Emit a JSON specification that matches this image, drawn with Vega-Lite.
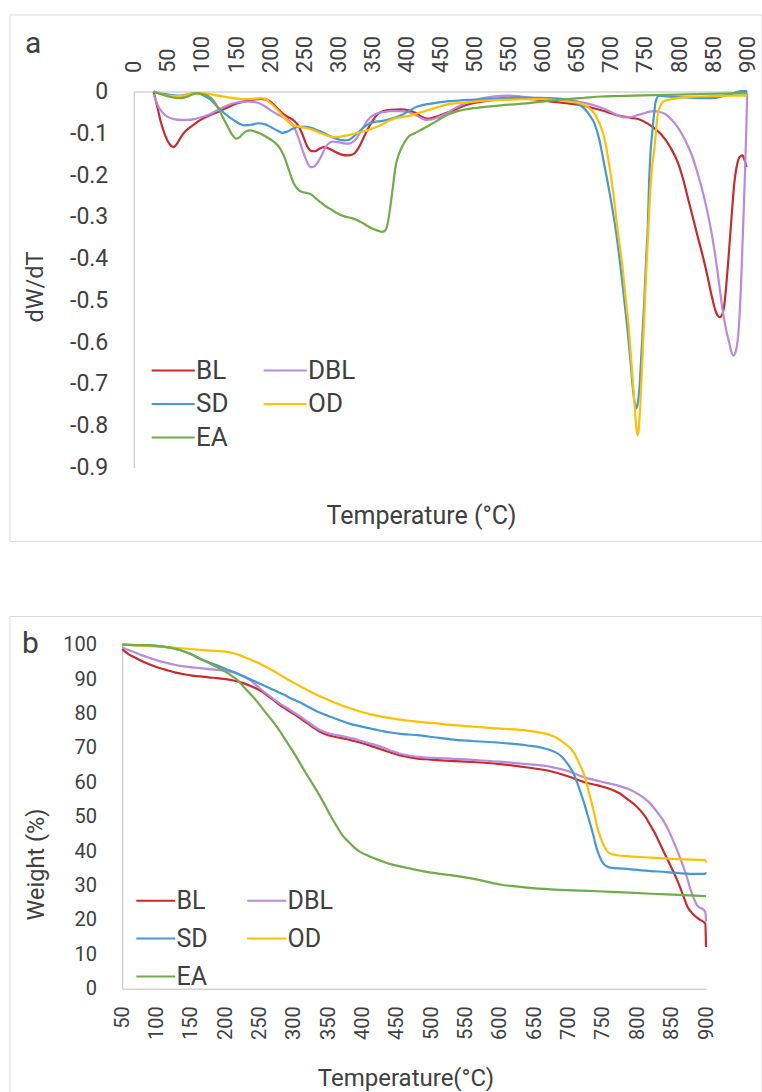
{
  "$schema": "https://vega.github.io/schema/vega-lite/v6.json",
  "padding": {"left": 8.5, "top": 13.5, "right": 0, "bottom": 0},
  "background": "white",
  "spacing": 73.5,
  "config": {
    "font": "Roboto",
    "view": {"stroke": "#d9d9d9", "strokeWidth": 1},
    "axis": {"labelColor": "#404040", "titleColor": "#404040", "labelFont": "Roboto", "titleFont": "Roboto", "titleFontWeight": "normal", "domainColor": "#bfbfbf", "domainWidth": 1, "grid": false, "ticks": false, "tickSize": 0, "labelOverlap": false, "labelFlush": false, "labelBound": false},
    "legend": {"labelColor": "#404040", "labelFont": "Roboto", "padding": 0, "titlePadding": 0},
    "title": {"color": "#404040", "font": "Roboto", "fontWeight": "normal", "fontSize": 30}
  },
  "resolve": {"scale": {"color": "independent"}, "legend": {"color": "independent"}},
  "datasets": {
    "dtg": [
      {"s":"BL","T":29,"v":0},{"s":"BL","T":35,"v":-0.04},{"s":"BL","T":40,"v":-0.075},{"s":"BL","T":46,"v":-0.105},{"s":"BL","T":52,"v":-0.125},{"s":"BL","T":58,"v":-0.133},{"s":"BL","T":63,"v":-0.126},{"s":"BL","T":68,"v":-0.112},{"s":"BL","T":74,"v":-0.098},{"s":"BL","T":80,"v":-0.089},{"s":"BL","T":89,"v":-0.078},{"s":"BL","T":98,"v":-0.068},{"s":"BL","T":110,"v":-0.058},{"s":"BL","T":123,"v":-0.049},{"s":"BL","T":135,"v":-0.04},{"s":"BL","T":147,"v":-0.031},{"s":"BL","T":157,"v":-0.026},{"s":"BL","T":167,"v":-0.022},{"s":"BL","T":177,"v":-0.019},{"s":"BL","T":186,"v":-0.018},{"s":"BL","T":193,"v":-0.019},{"s":"BL","T":200,"v":-0.024},{"s":"BL","T":208,"v":-0.036},{"s":"BL","T":216,"v":-0.049},{"s":"BL","T":226,"v":-0.061},{"s":"BL","T":235,"v":-0.07},{"s":"BL","T":242,"v":-0.083},{"s":"BL","T":248,"v":-0.105},{"s":"BL","T":254,"v":-0.13},{"s":"BL","T":260,"v":-0.142},{"s":"BL","T":266,"v":-0.143},{"s":"BL","T":272,"v":-0.137},{"s":"BL","T":279,"v":-0.133},{"s":"BL","T":287,"v":-0.137},{"s":"BL","T":296,"v":-0.145},{"s":"BL","T":305,"v":-0.151},{"s":"BL","T":314,"v":-0.153},{"s":"BL","T":321,"v":-0.151},{"s":"BL","T":327,"v":-0.142},{"s":"BL","T":333,"v":-0.125},{"s":"BL","T":339,"v":-0.104},{"s":"BL","T":345,"v":-0.085},{"s":"BL","T":352,"v":-0.066},{"s":"BL","T":358,"v":-0.054},{"s":"BL","T":366,"v":-0.047},{"s":"BL","T":377,"v":-0.044},{"s":"BL","T":392,"v":-0.043},{"s":"BL","T":403,"v":-0.045},{"s":"BL","T":413,"v":-0.051},{"s":"BL","T":422,"v":-0.06},{"s":"BL","T":431,"v":-0.065},{"s":"BL","T":440,"v":-0.062},{"s":"BL","T":456,"v":-0.053},{"s":"BL","T":470,"v":-0.044},{"s":"BL","T":490,"v":-0.031},{"s":"BL","T":515,"v":-0.023},{"s":"BL","T":539,"v":-0.019},{"s":"BL","T":565,"v":-0.017},{"s":"BL","T":590,"v":-0.019},{"s":"BL","T":617,"v":-0.025},{"s":"BL","T":640,"v":-0.029},{"s":"BL","T":660,"v":-0.034},{"s":"BL","T":686,"v":-0.045},{"s":"BL","T":710,"v":-0.057},{"s":"BL","T":730,"v":-0.063},{"s":"BL","T":742,"v":-0.067},{"s":"BL","T":754,"v":-0.077},{"s":"BL","T":765,"v":-0.09},{"s":"BL","T":774,"v":-0.103},{"s":"BL","T":787,"v":-0.133},{"s":"BL","T":799,"v":-0.173},{"s":"BL","T":806,"v":-0.21},{"s":"BL","T":813,"v":-0.255},{"s":"BL","T":820,"v":-0.3},{"s":"BL","T":827,"v":-0.345},{"s":"BL","T":835,"v":-0.395},{"s":"BL","T":842,"v":-0.444},{"s":"BL","T":848,"v":-0.49},{"s":"BL","T":853,"v":-0.522},{"s":"BL","T":857,"v":-0.537},{"s":"BL","T":860,"v":-0.54},{"s":"BL","T":863,"v":-0.535},{"s":"BL","T":866,"v":-0.516},{"s":"BL","T":869,"v":-0.47},{"s":"BL","T":872,"v":-0.41},{"s":"BL","T":875,"v":-0.345},{"s":"BL","T":878,"v":-0.28},{"s":"BL","T":881,"v":-0.22},{"s":"BL","T":884,"v":-0.185},{"s":"BL","T":887,"v":-0.163},{"s":"BL","T":890,"v":-0.155},{"s":"BL","T":893,"v":-0.153},{"s":"BL","T":896,"v":-0.163},{"s":"BL","T":899,"v":-0.181},
      {"s":"DBL","T":29,"v":-0.006},{"s":"DBL","T":32,"v":-0.02},{"s":"DBL","T":35,"v":-0.033},{"s":"DBL","T":42,"v":-0.05},{"s":"DBL","T":49,"v":-0.06},{"s":"DBL","T":59,"v":-0.066},{"s":"DBL","T":69,"v":-0.068},{"s":"DBL","T":79,"v":-0.068},{"s":"DBL","T":89,"v":-0.066},{"s":"DBL","T":100,"v":-0.061},{"s":"DBL","T":113,"v":-0.053},{"s":"DBL","T":125,"v":-0.043},{"s":"DBL","T":138,"v":-0.033},{"s":"DBL","T":150,"v":-0.027},{"s":"DBL","T":162,"v":-0.024},{"s":"DBL","T":172,"v":-0.024},{"s":"DBL","T":182,"v":-0.027},{"s":"DBL","T":191,"v":-0.034},{"s":"DBL","T":201,"v":-0.045},{"s":"DBL","T":211,"v":-0.055},{"s":"DBL","T":221,"v":-0.063},{"s":"DBL","T":229,"v":-0.072},{"s":"DBL","T":235,"v":-0.085},{"s":"DBL","T":241,"v":-0.108},{"s":"DBL","T":247,"v":-0.138},{"s":"DBL","T":252,"v":-0.16},{"s":"DBL","T":256,"v":-0.175},{"s":"DBL","T":260,"v":-0.181},{"s":"DBL","T":264,"v":-0.18},{"s":"DBL","T":269,"v":-0.172},{"s":"DBL","T":275,"v":-0.155},{"s":"DBL","T":281,"v":-0.135},{"s":"DBL","T":287,"v":-0.123},{"s":"DBL","T":293,"v":-0.12},{"s":"DBL","T":299,"v":-0.121},{"s":"DBL","T":308,"v":-0.124},{"s":"DBL","T":316,"v":-0.125},{"s":"DBL","T":322,"v":-0.12},{"s":"DBL","T":328,"v":-0.109},{"s":"DBL","T":336,"v":-0.088},{"s":"DBL","T":343,"v":-0.069},{"s":"DBL","T":350,"v":-0.058},{"s":"DBL","T":358,"v":-0.052},{"s":"DBL","T":367,"v":-0.049},{"s":"DBL","T":377,"v":-0.047},{"s":"DBL","T":390,"v":-0.047},{"s":"DBL","T":402,"v":-0.049},{"s":"DBL","T":412,"v":-0.055},{"s":"DBL","T":421,"v":-0.063},{"s":"DBL","T":429,"v":-0.068},{"s":"DBL","T":437,"v":-0.067},{"s":"DBL","T":446,"v":-0.062},{"s":"DBL","T":456,"v":-0.055},{"s":"DBL","T":470,"v":-0.041},{"s":"DBL","T":490,"v":-0.026},{"s":"DBL","T":505,"v":-0.019},{"s":"DBL","T":519,"v":-0.014},{"s":"DBL","T":534,"v":-0.011},{"s":"DBL","T":549,"v":-0.01},{"s":"DBL","T":568,"v":-0.012},{"s":"DBL","T":588,"v":-0.016},{"s":"DBL","T":612,"v":-0.018},{"s":"DBL","T":637,"v":-0.02},{"s":"DBL","T":652,"v":-0.024},{"s":"DBL","T":666,"v":-0.029},{"s":"DBL","T":681,"v":-0.036},{"s":"DBL","T":695,"v":-0.045},{"s":"DBL","T":705,"v":-0.053},{"s":"DBL","T":715,"v":-0.06},{"s":"DBL","T":722,"v":-0.062},{"s":"DBL","T":730,"v":-0.061},{"s":"DBL","T":740,"v":-0.056},{"s":"DBL","T":749,"v":-0.052},{"s":"DBL","T":757,"v":-0.048},{"s":"DBL","T":764,"v":-0.047},{"s":"DBL","T":771,"v":-0.049},{"s":"DBL","T":779,"v":-0.053},{"s":"DBL","T":788,"v":-0.066},{"s":"DBL","T":798,"v":-0.085},{"s":"DBL","T":808,"v":-0.113},{"s":"DBL","T":818,"v":-0.149},{"s":"DBL","T":828,"v":-0.2},{"s":"DBL","T":837,"v":-0.255},{"s":"DBL","T":845,"v":-0.315},{"s":"DBL","T":852,"v":-0.38},{"s":"DBL","T":858,"v":-0.45},{"s":"DBL","T":864,"v":-0.524},{"s":"DBL","T":869,"v":-0.57},{"s":"DBL","T":874,"v":-0.604},{"s":"DBL","T":877,"v":-0.624},{"s":"DBL","T":880,"v":-0.632},{"s":"DBL","T":883,"v":-0.623},{"s":"DBL","T":886,"v":-0.596},{"s":"DBL","T":889,"v":-0.53},{"s":"DBL","T":891,"v":-0.46},{"s":"DBL","T":893,"v":-0.37},{"s":"DBL","T":895,"v":-0.28},{"s":"DBL","T":897,"v":-0.18},{"s":"DBL","T":899,"v":-0.07},{"s":"DBL","T":900,"v":-0.005},
      {"s":"SD","T":29,"v":0},{"s":"SD","T":39,"v":-0.005},{"s":"SD","T":49,"v":-0.007},{"s":"SD","T":59,"v":-0.009},{"s":"SD","T":69,"v":-0.01},{"s":"SD","T":79,"v":-0.007},{"s":"SD","T":89,"v":-0.004},{"s":"SD","T":96,"v":-0.005},{"s":"SD","T":103,"v":-0.01},{"s":"SD","T":113,"v":-0.02},{"s":"SD","T":123,"v":-0.037},{"s":"SD","T":135,"v":-0.055},{"s":"SD","T":147,"v":-0.069},{"s":"SD","T":155,"v":-0.077},{"s":"SD","T":162,"v":-0.081},{"s":"SD","T":172,"v":-0.08},{"s":"SD","T":182,"v":-0.076},{"s":"SD","T":192,"v":-0.078},{"s":"SD","T":201,"v":-0.085},{"s":"SD","T":210,"v":-0.093},{"s":"SD","T":218,"v":-0.099},{"s":"SD","T":225,"v":-0.096},{"s":"SD","T":233,"v":-0.089},{"s":"SD","T":241,"v":-0.085},{"s":"SD","T":250,"v":-0.084},{"s":"SD","T":260,"v":-0.087},{"s":"SD","T":270,"v":-0.093},{"s":"SD","T":280,"v":-0.1},{"s":"SD","T":289,"v":-0.108},{"s":"SD","T":299,"v":-0.114},{"s":"SD","T":309,"v":-0.117},{"s":"SD","T":315,"v":-0.116},{"s":"SD","T":321,"v":-0.11},{"s":"SD","T":328,"v":-0.1},{"s":"SD","T":338,"v":-0.085},{"s":"SD","T":345,"v":-0.077},{"s":"SD","T":353,"v":-0.073},{"s":"SD","T":362,"v":-0.071},{"s":"SD","T":372,"v":-0.068},{"s":"SD","T":382,"v":-0.063},{"s":"SD","T":392,"v":-0.057},{"s":"SD","T":404,"v":-0.046},{"s":"SD","T":416,"v":-0.036},{"s":"SD","T":428,"v":-0.031},{"s":"SD","T":441,"v":-0.028},{"s":"SD","T":453,"v":-0.025},{"s":"SD","T":465,"v":-0.023},{"s":"SD","T":490,"v":-0.02},{"s":"SD","T":514,"v":-0.018},{"s":"SD","T":539,"v":-0.016},{"s":"SD","T":563,"v":-0.014},{"s":"SD","T":588,"v":-0.015},{"s":"SD","T":612,"v":-0.016},{"s":"SD","T":630,"v":-0.018},{"s":"SD","T":642,"v":-0.022},{"s":"SD","T":652,"v":-0.03},{"s":"SD","T":661,"v":-0.041},{"s":"SD","T":669,"v":-0.057},{"s":"SD","T":676,"v":-0.077},{"s":"SD","T":683,"v":-0.115},{"s":"SD","T":690,"v":-0.173},{"s":"SD","T":695,"v":-0.215},{"s":"SD","T":700,"v":-0.26},{"s":"SD","T":707,"v":-0.33},{"s":"SD","T":713,"v":-0.404},{"s":"SD","T":719,"v":-0.49},{"s":"SD","T":725,"v":-0.58},{"s":"SD","T":729,"v":-0.65},{"s":"SD","T":732,"v":-0.707},{"s":"SD","T":735,"v":-0.745},{"s":"SD","T":737,"v":-0.759},{"s":"SD","T":739,"v":-0.75},{"s":"SD","T":742,"v":-0.707},{"s":"SD","T":745,"v":-0.62},{"s":"SD","T":749,"v":-0.5},{"s":"SD","T":752,"v":-0.39},{"s":"SD","T":754,"v":-0.33},{"s":"SD","T":756,"v":-0.22},{"s":"SD","T":758,"v":-0.15},{"s":"SD","T":761,"v":-0.093},{"s":"SD","T":764,"v":-0.045},{"s":"SD","T":766,"v":-0.022},{"s":"SD","T":771,"v":-0.01},{"s":"SD","T":783,"v":-0.012},{"s":"SD","T":808,"v":-0.014},{"s":"SD","T":832,"v":-0.016},{"s":"SD","T":845,"v":-0.016},{"s":"SD","T":857,"v":-0.014},{"s":"SD","T":867,"v":-0.01},{"s":"SD","T":877,"v":-0.006},{"s":"SD","T":885,"v":-0.001},{"s":"SD","T":891,"v":0.001},{"s":"SD","T":900,"v":0.001},
      {"s":"OD","T":29,"v":0},{"s":"OD","T":39,"v":-0.006},{"s":"OD","T":49,"v":-0.01},{"s":"OD","T":59,"v":-0.011},{"s":"OD","T":69,"v":-0.011},{"s":"OD","T":77,"v":-0.008},{"s":"OD","T":84,"v":-0.005},{"s":"OD","T":98,"v":-0.004},{"s":"OD","T":110,"v":-0.006},{"s":"OD","T":123,"v":-0.01},{"s":"OD","T":135,"v":-0.013},{"s":"OD","T":147,"v":-0.016},{"s":"OD","T":160,"v":-0.018},{"s":"OD","T":172,"v":-0.018},{"s":"OD","T":186,"v":-0.016},{"s":"OD","T":192,"v":-0.017},{"s":"OD","T":198,"v":-0.024},{"s":"OD","T":206,"v":-0.036},{"s":"OD","T":216,"v":-0.053},{"s":"OD","T":224,"v":-0.068},{"s":"OD","T":231,"v":-0.079},{"s":"OD","T":238,"v":-0.083},{"s":"OD","T":245,"v":-0.085},{"s":"OD","T":255,"v":-0.088},{"s":"OD","T":265,"v":-0.093},{"s":"OD","T":275,"v":-0.1},{"s":"OD","T":284,"v":-0.106},{"s":"OD","T":294,"v":-0.109},{"s":"OD","T":304,"v":-0.108},{"s":"OD","T":313,"v":-0.105},{"s":"OD","T":323,"v":-0.101},{"s":"OD","T":333,"v":-0.097},{"s":"OD","T":343,"v":-0.093},{"s":"OD","T":353,"v":-0.087},{"s":"OD","T":363,"v":-0.08},{"s":"OD","T":372,"v":-0.072},{"s":"OD","T":382,"v":-0.065},{"s":"OD","T":394,"v":-0.061},{"s":"OD","T":407,"v":-0.057},{"s":"OD","T":419,"v":-0.051},{"s":"OD","T":431,"v":-0.045},{"s":"OD","T":445,"v":-0.038},{"s":"OD","T":460,"v":-0.031},{"s":"OD","T":475,"v":-0.028},{"s":"OD","T":490,"v":-0.026},{"s":"OD","T":515,"v":-0.022},{"s":"OD","T":539,"v":-0.02},{"s":"OD","T":563,"v":-0.019},{"s":"OD","T":588,"v":-0.018},{"s":"OD","T":607,"v":-0.019},{"s":"OD","T":627,"v":-0.022},{"s":"OD","T":642,"v":-0.025},{"s":"OD","T":656,"v":-0.029},{"s":"OD","T":667,"v":-0.038},{"s":"OD","T":676,"v":-0.053},{"s":"OD","T":683,"v":-0.075},{"s":"OD","T":690,"v":-0.109},{"s":"OD","T":697,"v":-0.17},{"s":"OD","T":703,"v":-0.237},{"s":"OD","T":710,"v":-0.333},{"s":"OD","T":717,"v":-0.42},{"s":"OD","T":722,"v":-0.5},{"s":"OD","T":727,"v":-0.58},{"s":"OD","T":731,"v":-0.67},{"s":"OD","T":735,"v":-0.755},{"s":"OD","T":737,"v":-0.8},{"s":"OD","T":739,"v":-0.823},{"s":"OD","T":741,"v":-0.805},{"s":"OD","T":743,"v":-0.755},{"s":"OD","T":746,"v":-0.65},{"s":"OD","T":749,"v":-0.54},{"s":"OD","T":753,"v":-0.39},{"s":"OD","T":755,"v":-0.33},{"s":"OD","T":757,"v":-0.26},{"s":"OD","T":760,"v":-0.19},{"s":"OD","T":764,"v":-0.133},{"s":"OD","T":767,"v":-0.08},{"s":"OD","T":769,"v":-0.053},{"s":"OD","T":774,"v":-0.03},{"s":"OD","T":779,"v":-0.022},{"s":"OD","T":798,"v":-0.016},{"s":"OD","T":832,"v":-0.012},{"s":"OD","T":881,"v":-0.01},{"s":"OD","T":900,"v":-0.01},
      {"s":"EA","T":29,"v":0},{"s":"EA","T":39,"v":-0.006},{"s":"EA","T":49,"v":-0.011},{"s":"EA","T":59,"v":-0.015},{"s":"EA","T":69,"v":-0.016},{"s":"EA","T":79,"v":-0.012},{"s":"EA","T":86,"v":-0.007},{"s":"EA","T":93,"v":-0.004},{"s":"EA","T":100,"v":-0.006},{"s":"EA","T":108,"v":-0.01},{"s":"EA","T":116,"v":-0.02},{"s":"EA","T":123,"v":-0.037},{"s":"EA","T":130,"v":-0.06},{"s":"EA","T":138,"v":-0.085},{"s":"EA","T":145,"v":-0.105},{"s":"EA","T":150,"v":-0.113},{"s":"EA","T":155,"v":-0.11},{"s":"EA","T":160,"v":-0.101},{"s":"EA","T":165,"v":-0.095},{"s":"EA","T":171,"v":-0.093},{"s":"EA","T":178,"v":-0.096},{"s":"EA","T":186,"v":-0.101},{"s":"EA","T":196,"v":-0.11},{"s":"EA","T":206,"v":-0.121},{"s":"EA","T":214,"v":-0.135},{"s":"EA","T":221,"v":-0.157},{"s":"EA","T":228,"v":-0.19},{"s":"EA","T":235,"v":-0.221},{"s":"EA","T":242,"v":-0.236},{"s":"EA","T":248,"v":-0.241},{"s":"EA","T":254,"v":-0.243},{"s":"EA","T":260,"v":-0.246},{"s":"EA","T":267,"v":-0.256},{"s":"EA","T":275,"v":-0.266},{"s":"EA","T":282,"v":-0.275},{"s":"EA","T":289,"v":-0.282},{"s":"EA","T":299,"v":-0.292},{"s":"EA","T":309,"v":-0.299},{"s":"EA","T":320,"v":-0.303},{"s":"EA","T":328,"v":-0.308},{"s":"EA","T":336,"v":-0.315},{"s":"EA","T":343,"v":-0.322},{"s":"EA","T":350,"v":-0.328},{"s":"EA","T":358,"v":-0.333},{"s":"EA","T":364,"v":-0.336},{"s":"EA","T":368,"v":-0.334},{"s":"EA","T":372,"v":-0.32},{"s":"EA","T":376,"v":-0.28},{"s":"EA","T":380,"v":-0.23},{"s":"EA","T":384,"v":-0.18},{"s":"EA","T":389,"v":-0.15},{"s":"EA","T":395,"v":-0.128},{"s":"EA","T":402,"v":-0.11},{"s":"EA","T":412,"v":-0.1},{"s":"EA","T":421,"v":-0.092},{"s":"EA","T":431,"v":-0.083},{"s":"EA","T":441,"v":-0.074},{"s":"EA","T":451,"v":-0.064},{"s":"EA","T":461,"v":-0.055},{"s":"EA","T":475,"v":-0.047},{"s":"EA","T":490,"v":-0.042},{"s":"EA","T":515,"v":-0.037},{"s":"EA","T":539,"v":-0.033},{"s":"EA","T":563,"v":-0.03},{"s":"EA","T":588,"v":-0.026},{"s":"EA","T":612,"v":-0.022},{"s":"EA","T":637,"v":-0.018},{"s":"EA","T":661,"v":-0.015},{"s":"EA","T":686,"v":-0.012},{"s":"EA","T":710,"v":-0.011},{"s":"EA","T":734,"v":-0.01},{"s":"EA","T":783,"v":-0.008},{"s":"EA","T":832,"v":-0.006},{"s":"EA","T":900,"v":-0.004}
    ],
    "tg": [
      {"s":"BL","T":50,"w":98.7},{"s":"BL","T":58,"w":97.4},{"s":"BL","T":67,"w":96.4},{"s":"BL","T":79,"w":95.2},{"s":"BL","T":91,"w":94.2},{"s":"BL","T":103,"w":93.3},{"s":"BL","T":115,"w":92.6},{"s":"BL","T":128,"w":91.9},{"s":"BL","T":140,"w":91.4},{"s":"BL","T":152,"w":91.0},{"s":"BL","T":164,"w":90.8},{"s":"BL","T":176,"w":90.5},{"s":"BL","T":188,"w":90.3},{"s":"BL","T":200,"w":90.0},{"s":"BL","T":212,"w":89.6},{"s":"BL","T":225,"w":88.9},{"s":"BL","T":237,"w":88.0},{"s":"BL","T":244,"w":87.4},{"s":"BL","T":251,"w":86.7},{"s":"BL","T":261,"w":85.3},{"s":"BL","T":271,"w":83.8},{"s":"BL","T":280,"w":82.4},{"s":"BL","T":290,"w":81.1},{"s":"BL","T":300,"w":79.8},{"s":"BL","T":310,"w":78.5},{"s":"BL","T":320,"w":77.1},{"s":"BL","T":329,"w":75.8},{"s":"BL","T":338,"w":74.7},{"s":"BL","T":348,"w":73.8},{"s":"BL","T":358,"w":73.3},{"s":"BL","T":368,"w":72.9},{"s":"BL","T":378,"w":72.5},{"s":"BL","T":387,"w":72.0},{"s":"BL","T":397,"w":71.5},{"s":"BL","T":407,"w":70.9},{"s":"BL","T":419,"w":70.1},{"s":"BL","T":431,"w":69.3},{"s":"BL","T":443,"w":68.5},{"s":"BL","T":455,"w":67.8},{"s":"BL","T":467,"w":67.3},{"s":"BL","T":480,"w":66.9},{"s":"BL","T":492,"w":66.7},{"s":"BL","T":504,"w":66.5},{"s":"BL","T":528,"w":66.2},{"s":"BL","T":560,"w":65.9},{"s":"BL","T":600,"w":65.3},{"s":"BL","T":640,"w":64.3},{"s":"BL","T":674,"w":63.2},{"s":"BL","T":700,"w":61.7},{"s":"BL","T":722,"w":60.1},{"s":"BL","T":742,"w":59.1},{"s":"BL","T":761,"w":58.0},{"s":"BL","T":774,"w":56.8},{"s":"BL","T":785,"w":55.2},{"s":"BL","T":795,"w":53.7},{"s":"BL","T":804,"w":51.9},{"s":"BL","T":812,"w":49.9},{"s":"BL","T":819,"w":47.5},{"s":"BL","T":827,"w":44.7},{"s":"BL","T":834,"w":41.7},{"s":"BL","T":841,"w":38.8},{"s":"BL","T":848,"w":35.9},{"s":"BL","T":856,"w":32.5},{"s":"BL","T":863,"w":29.1},{"s":"BL","T":868,"w":26.4},{"s":"BL","T":873,"w":23.8},{"s":"BL","T":878,"w":22.4},{"s":"BL","T":883,"w":21.3},{"s":"BL","T":891,"w":20.1},{"s":"BL","T":899,"w":18.9},{"s":"BL","T":900,"w":12.1},
      {"s":"DBL","T":50,"w":99.3},{"s":"DBL","T":58,"w":98.5},{"s":"DBL","T":67,"w":97.9},{"s":"DBL","T":79,"w":96.9},{"s":"DBL","T":91,"w":96.1},{"s":"DBL","T":103,"w":95.3},{"s":"DBL","T":115,"w":94.7},{"s":"DBL","T":128,"w":94.1},{"s":"DBL","T":140,"w":93.7},{"s":"DBL","T":152,"w":93.4},{"s":"DBL","T":164,"w":93.2},{"s":"DBL","T":176,"w":92.9},{"s":"DBL","T":188,"w":92.7},{"s":"DBL","T":200,"w":92.4},{"s":"DBL","T":212,"w":91.9},{"s":"DBL","T":225,"w":90.9},{"s":"DBL","T":237,"w":89.6},{"s":"DBL","T":244,"w":88.4},{"s":"DBL","T":251,"w":87.2},{"s":"DBL","T":261,"w":85.6},{"s":"DBL","T":271,"w":84.1},{"s":"DBL","T":280,"w":82.8},{"s":"DBL","T":290,"w":81.6},{"s":"DBL","T":300,"w":80.3},{"s":"DBL","T":310,"w":79.0},{"s":"DBL","T":320,"w":77.6},{"s":"DBL","T":329,"w":76.3},{"s":"DBL","T":338,"w":75.2},{"s":"DBL","T":348,"w":74.4},{"s":"DBL","T":358,"w":73.9},{"s":"DBL","T":368,"w":73.5},{"s":"DBL","T":378,"w":73.1},{"s":"DBL","T":387,"w":72.7},{"s":"DBL","T":397,"w":72.1},{"s":"DBL","T":407,"w":71.5},{"s":"DBL","T":419,"w":70.8},{"s":"DBL","T":431,"w":70.0},{"s":"DBL","T":443,"w":69.1},{"s":"DBL","T":455,"w":68.3},{"s":"DBL","T":467,"w":67.8},{"s":"DBL","T":480,"w":67.4},{"s":"DBL","T":492,"w":67.2},{"s":"DBL","T":504,"w":67.1},{"s":"DBL","T":528,"w":66.9},{"s":"DBL","T":560,"w":66.5},{"s":"DBL","T":600,"w":66.0},{"s":"DBL","T":640,"w":65.3},{"s":"DBL","T":674,"w":64.5},{"s":"DBL","T":700,"w":63.2},{"s":"DBL","T":722,"w":61.5},{"s":"DBL","T":745,"w":60.3},{"s":"DBL","T":771,"w":59.1},{"s":"DBL","T":786,"w":58.1},{"s":"DBL","T":800,"w":56.7},{"s":"DBL","T":810,"w":55.4},{"s":"DBL","T":819,"w":53.8},{"s":"DBL","T":829,"w":51.3},{"s":"DBL","T":839,"w":48.5},{"s":"DBL","T":846,"w":45.8},{"s":"DBL","T":853,"w":42.6},{"s":"DBL","T":861,"w":38.7},{"s":"DBL","T":868,"w":34.9},{"s":"DBL","T":873,"w":31.9},{"s":"DBL","T":877,"w":29.1},{"s":"DBL","T":882,"w":26.4},{"s":"DBL","T":887,"w":24.2},{"s":"DBL","T":891,"w":23.5},{"s":"DBL","T":894,"w":23.3},{"s":"DBL","T":899,"w":22.3},{"s":"DBL","T":900,"w":19.5},
      {"s":"SD","T":50,"w":100},{"s":"SD","T":70,"w":99.9},{"s":"SD","T":91,"w":99.8},{"s":"SD","T":103,"w":99.6},{"s":"SD","T":115,"w":99.3},{"s":"SD","T":125,"w":98.9},{"s":"SD","T":135,"w":98.4},{"s":"SD","T":150,"w":97.3},{"s":"SD","T":164,"w":95.9},{"s":"SD","T":176,"w":94.9},{"s":"SD","T":188,"w":94.0},{"s":"SD","T":200,"w":93.0},{"s":"SD","T":212,"w":92.1},{"s":"SD","T":225,"w":91.0},{"s":"SD","T":237,"w":89.9},{"s":"SD","T":249,"w":88.8},{"s":"SD","T":261,"w":87.7},{"s":"SD","T":273,"w":86.6},{"s":"SD","T":285,"w":85.5},{"s":"SD","T":297,"w":84.3},{"s":"SD","T":310,"w":83.1},{"s":"SD","T":322,"w":81.8},{"s":"SD","T":334,"w":80.6},{"s":"SD","T":346,"w":79.6},{"s":"SD","T":358,"w":78.7},{"s":"SD","T":370,"w":77.8},{"s":"SD","T":382,"w":77.0},{"s":"SD","T":394,"w":76.4},{"s":"SD","T":407,"w":75.8},{"s":"SD","T":419,"w":75.3},{"s":"SD","T":431,"w":74.8},{"s":"SD","T":443,"w":74.4},{"s":"SD","T":455,"w":74.1},{"s":"SD","T":467,"w":73.9},{"s":"SD","T":480,"w":73.7},{"s":"SD","T":504,"w":73.1},{"s":"SD","T":528,"w":72.5},{"s":"SD","T":560,"w":72.0},{"s":"SD","T":600,"w":71.5},{"s":"SD","T":640,"w":70.7},{"s":"SD","T":660,"w":70.1},{"s":"SD","T":674,"w":69.3},{"s":"SD","T":681,"w":68.7},{"s":"SD","T":688,"w":67.8},{"s":"SD","T":695,"w":66.3},{"s":"SD","T":703,"w":64.0},{"s":"SD","T":708,"w":62.2},{"s":"SD","T":712,"w":60.1},{"s":"SD","T":717,"w":57.3},{"s":"SD","T":722,"w":54.3},{"s":"SD","T":727,"w":50.9},{"s":"SD","T":732,"w":47.5},{"s":"SD","T":737,"w":43.8},{"s":"SD","T":741,"w":40.7},{"s":"SD","T":746,"w":38.0},{"s":"SD","T":751,"w":36.3},{"s":"SD","T":756,"w":35.5},{"s":"SD","T":761,"w":35.2},{"s":"SD","T":780,"w":34.9},{"s":"SD","T":795,"w":34.6},{"s":"SD","T":820,"w":34.2},{"s":"SD","T":843,"w":33.9},{"s":"SD","T":860,"w":33.6},{"s":"SD","T":877,"w":33.4},{"s":"SD","T":899,"w":33.4},{"s":"SD","T":900,"w":33.8},
      {"s":"OD","T":50,"w":100},{"s":"OD","T":70,"w":99.8},{"s":"OD","T":91,"w":99.6},{"s":"OD","T":115,"w":99.3},{"s":"OD","T":140,"w":98.9},{"s":"OD","T":164,"w":98.5},{"s":"OD","T":185,"w":98.2},{"s":"OD","T":203,"w":97.9},{"s":"OD","T":212,"w":97.5},{"s":"OD","T":222,"w":96.9},{"s":"OD","T":234,"w":95.9},{"s":"OD","T":247,"w":94.8},{"s":"OD","T":259,"w":93.6},{"s":"OD","T":271,"w":92.3},{"s":"OD","T":285,"w":90.6},{"s":"OD","T":300,"w":88.9},{"s":"OD","T":315,"w":87.3},{"s":"OD","T":329,"w":85.8},{"s":"OD","T":344,"w":84.5},{"s":"OD","T":358,"w":83.3},{"s":"OD","T":372,"w":82.2},{"s":"OD","T":387,"w":81.2},{"s":"OD","T":401,"w":80.3},{"s":"OD","T":416,"w":79.6},{"s":"OD","T":430,"w":79.0},{"s":"OD","T":445,"w":78.5},{"s":"OD","T":460,"w":78.1},{"s":"OD","T":475,"w":77.7},{"s":"OD","T":490,"w":77.4},{"s":"OD","T":504,"w":77.2},{"s":"OD","T":528,"w":76.7},{"s":"OD","T":560,"w":76.2},{"s":"OD","T":600,"w":75.6},{"s":"OD","T":640,"w":75.0},{"s":"OD","T":660,"w":74.4},{"s":"OD","T":674,"w":73.7},{"s":"OD","T":681,"w":73.1},{"s":"OD","T":688,"w":72.2},{"s":"OD","T":695,"w":71.2},{"s":"OD","T":703,"w":69.8},{"s":"OD","T":708,"w":68.5},{"s":"OD","T":712,"w":66.9},{"s":"OD","T":717,"w":64.8},{"s":"OD","T":722,"w":62.5},{"s":"OD","T":727,"w":59.0},{"s":"OD","T":732,"w":55.2},{"s":"OD","T":737,"w":51.2},{"s":"OD","T":741,"w":47.5},{"s":"OD","T":746,"w":44.2},{"s":"OD","T":751,"w":41.7},{"s":"OD","T":756,"w":40.0},{"s":"OD","T":761,"w":39.2},{"s":"OD","T":770,"w":38.8},{"s":"OD","T":780,"w":38.6},{"s":"OD","T":819,"w":38.1},{"s":"OD","T":868,"w":37.6},{"s":"OD","T":899,"w":37.4},{"s":"OD","T":900,"w":36.7},
      {"s":"EA","T":50,"w":100},{"s":"EA","T":70,"w":99.9},{"s":"EA","T":91,"w":99.8},{"s":"EA","T":103,"w":99.6},{"s":"EA","T":115,"w":99.3},{"s":"EA","T":125,"w":98.9},{"s":"EA","T":135,"w":98.4},{"s":"EA","T":150,"w":97.2},{"s":"EA","T":164,"w":95.8},{"s":"EA","T":176,"w":94.7},{"s":"EA","T":188,"w":93.5},{"s":"EA","T":200,"w":92.2},{"s":"EA","T":212,"w":90.6},{"s":"EA","T":220,"w":89.3},{"s":"EA","T":227,"w":87.7},{"s":"EA","T":237,"w":85.6},{"s":"EA","T":247,"w":83.3},{"s":"EA","T":256,"w":81.0},{"s":"EA","T":266,"w":78.5},{"s":"EA","T":276,"w":75.9},{"s":"EA","T":285,"w":73.2},{"s":"EA","T":295,"w":70.1},{"s":"EA","T":305,"w":66.9},{"s":"EA","T":314,"w":63.8},{"s":"EA","T":324,"w":60.6},{"s":"EA","T":334,"w":57.3},{"s":"EA","T":344,"w":53.8},{"s":"EA","T":353,"w":50.4},{"s":"EA","T":363,"w":47.0},{"s":"EA","T":371,"w":44.5},{"s":"EA","T":380,"w":42.6},{"s":"EA","T":388,"w":41.0},{"s":"EA","T":397,"w":39.7},{"s":"EA","T":409,"w":38.6},{"s":"EA","T":421,"w":37.6},{"s":"EA","T":433,"w":36.7},{"s":"EA","T":445,"w":36.0},{"s":"EA","T":458,"w":35.4},{"s":"EA","T":470,"w":34.9},{"s":"EA","T":489,"w":34.1},{"s":"EA","T":508,"w":33.5},{"s":"EA","T":528,"w":33.0},{"s":"EA","T":560,"w":32.0},{"s":"EA","T":600,"w":30.3},{"s":"EA","T":640,"w":29.4},{"s":"EA","T":674,"w":28.9},{"s":"EA","T":720,"w":28.5},{"s":"EA","T":771,"w":28.1},{"s":"EA","T":820,"w":27.6},{"s":"EA","T":868,"w":27.2},{"s":"EA","T":900,"w":26.9}
    ]
  },
  "vconcat": [
    {
      "width": 752,
      "height": 526.5,
      "title": {"text": "a", "anchor": "start", "frame": "group", "orient": "top", "offset": -68, "dx": 15.5, "baseline": "alphabetic"},
      "data": {"name": "dtg"},
      "mark": {"type": "line", "strokeWidth": 2.2, "interpolate": "monotone"},
      "encoding": {
        "x": {"field": "T", "type": "quantitative",
          "scale": {"domain": [0, 900], "range": [124.3, 737.7], "nice": false, "zero": false},
          "axis": {"orient": "top", "offset": -77, "values": [0,50,100,150,200,250,300,350,400,450,500,550,600,650,700,750,800,850,900], "labelAngle": -90, "labelPadding": 19, "labelFontSize": 22, "title": "Temperature (°C)", "titleFontSize": 25, "titleX": 411.5, "titleY": 431.7, "titleBaseline": "alphabetic", "titleAlign": "center"}},
        "y": {"field": "v", "type": "quantitative",
          "scale": {"domain": [-0.9, 0], "range": [453, 77], "nice": false, "zero": false},
          "axis": {"orient": "left", "offset": -124.3, "values": [0,-0.1,-0.2,-0.3,-0.4,-0.5,-0.6,-0.7,-0.8,-0.9], "labelExpr": "toString(round(datum.value*10)/10)", "labelPadding": 26, "labelFontSize": 23, "title": "dW/dT", "titleFontSize": 23.5, "titlePadding": 22, "titleY": 272, "titleAlign": "center"}},
        "color": {"field": "s", "type": "nominal",
          "scale": {"domain": ["BL","DBL","SD","OD","EA"], "range": ["#cc2929","#b98ae0","#4599d6","#ffc000","#70ad47"]},
          "legend": {"orient": "none", "direction": "horizontal", "legendX": 140, "legendY": 343, "columns": 2, "title": null, "symbolType": "M-1,0H3", "symbolSize": 462, "symbolStrokeWidth": 2.2, "labelFontSize": 26, "labelOffset": 20.5, "rowPadding": 7.5, "columnPadding": 30}}
      }
    },
    {
      "width": 752,
      "height": 477,
      "title": {"text": "b", "anchor": "start", "frame": "group", "orient": "top", "offset": -67, "dx": 12.5, "baseline": "alphabetic"},
      "data": {"name": "tg"},
      "mark": {"type": "line", "strokeWidth": 2.2, "interpolate": "monotone"},
      "encoding": {
        "x": {"field": "T", "type": "quantitative",
          "scale": {"domain": [50, 900], "range": [112.7, 696.5], "nice": false, "zero": false},
          "axis": {"orient": "bottom", "offset": -104.3, "values": [50,100,150,200,250,300,350,400,450,500,550,600,650,700,750,800,850,900], "labelAngle": -90, "labelPadding": 17, "labelFontSize": 20, "title": "Temperature(°C)", "titleFontSize": 24, "titleX": 396, "titleY": 96.5, "titleBaseline": "alphabetic", "titleAlign": "center"}},
        "y": {"field": "w", "type": "quantitative",
          "scale": {"domain": [0, 100], "range": [372.7, 28.7], "nice": false, "zero": false},
          "axis": {"orient": "left", "offset": -112.7, "values": [0,10,20,30,40,50,60,70,80,90,100], "labelPadding": 25.7, "labelFontSize": 20, "title": "Weight (%)", "titleFontSize": 23.5, "titlePadding": 14, "titleY": 248, "titleAlign": "center"}},
        "color": {"field": "s", "type": "nominal",
          "scale": {"domain": ["BL","DBL","SD","OD","EA"], "range": ["#cc2929","#b98ae0","#4599d6","#ffc000","#70ad47"]},
          "legend": {"orient": "none", "direction": "horizontal", "legendX": 124, "legendY": 272, "columns": 2, "title": null, "symbolType": "M-1,0H3", "symbolSize": 380, "symbolStrokeWidth": 2.2, "labelFontSize": 25, "labelOffset": 18, "rowPadding": 12, "columnPadding": 34}}
      }
    }
  ]
}
